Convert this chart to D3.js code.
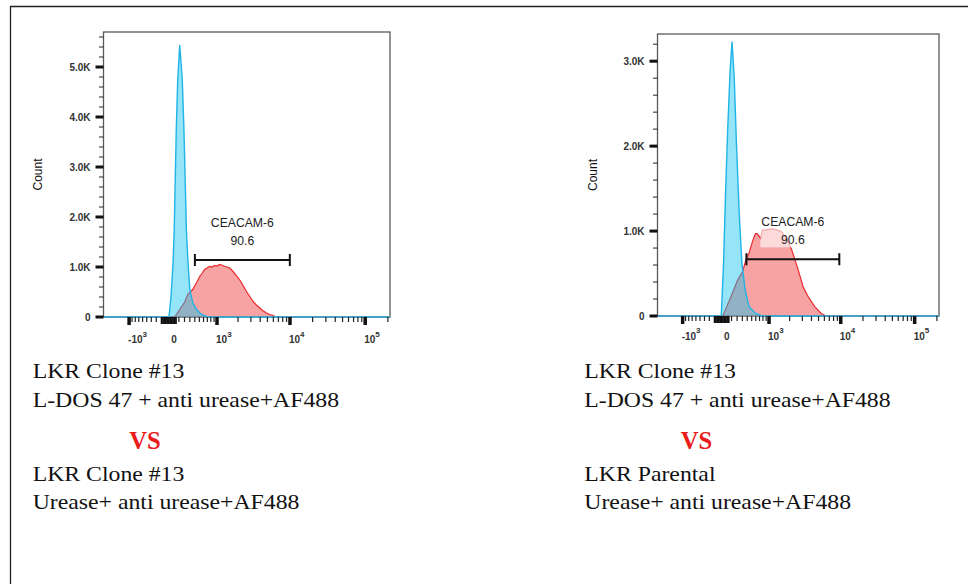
<!DOCTYPE html>
<html><head><meta charset="utf-8">
<script src="https://cdn.jsdelivr.net/npm/d3@7"></script>
<style>body{margin:0;background:#fff}svg{display:block}</style>
</head><body>
<svg id="c" width="968" height="584"></svg>
<script>
// ---------------- DATA ----------------
// Left panel: LKR Clone #13 (L-DOS 47) vs LKR Clone #13 (Urease+)
const blueL_x = [-70, -35, 0, 20, 55, 80, 115, 160, 190, 235, 265, 300, 360, 435, 550, 710];
const blueL_y = [0, 410, 1080, 1740, 3740, 4740, 5440, 4740, 3740, 1740, 1080, 540, 280, 150, 50, 0];
const redL_x = [27, 114, 203, 264, 350, 434, 508, 570, 628, 700, 769, 840, 921, 1000, 1091, 1200, 1301, 1420, 1535, 1708, 1900, 2116, 2350, 2613, 2900, 3210, 3550, 3952, 4400, 4862, 5400, 5958, 6473];
const redL_y = [0, 150, 300, 460, 540, 680, 810, 880, 950, 985, 1010, 1000, 1030, 1020, 1050, 1035, 1010, 1000, 980, 910, 830, 740, 630, 510, 410, 310, 240, 180, 120, 80, 50, 30, 0];
// Right panel: LKR Clone #13 (L-DOS 47) vs LKR Parental (Urease+)
const blueR_x = [-80, -40, -7, 32, 74, 109, 149, 190, 240, 291, 356, 440, 597, 778];
const blueR_y = [0, 620, 1400, 2190, 2890, 3230, 2780, 1990, 1210, 620, 310, 110, 30, 0];
const redR_x = [-53, 91, 208, 303, 383, 440, 515, 556, 597, 636, 685, 734, 778, 880, 991, 1120, 1246, 1400, 1550, 1821, 2136, 2638, 3083, 3600, 4433, 5433, 6335];
const redR_y = [0, 230, 420, 520, 680, 740, 870, 930, 970, 970, 940, 910, 1010, 1015, 1020, 1025, 1020, 1005, 990, 910, 780, 540, 340, 230, 110, 30, 0];
// Gates: [from, to, count level]
const gateL = [402, 9950, 1140];
const gateR = [383, 9566, 667];
const gateName = "CEACAM-6";
const gateValueL = "90.6";
const gateValueR = "90.6";
// Axes
const xTickValues = [-1000, 0, 1000, 10000, 100000];
const xTickBase = ["-10", "0", "10", "10", "10"];
const xTickExp = ["3", "", "3", "4", "5"];
const yTicksL = [0, 1000, 2000, 3000, 4000, 5000];
const yLabelsL = ["0", "1.0K", "2.0K", "3.0K", "4.0K", "5.0K"];
const yTicksR = [0, 1000, 2000, 3000];
const yLabelsR = ["0", "1.0K", "2.0K", "3.0K"];
const yAxisTitle = "Count";
// Captions
const captionL = ["LKR Clone #13", "L-DOS 47 + anti urease+AF488", "VS", "LKR Clone #13", "Urease+ anti urease+AF488"];
const captionR = ["LKR Clone #13", "L-DOS 47 + anti urease+AF488", "VS", "LKR Parental", "Urease+ anti urease+AF488"];

// ---------------- DRAW ----------------
const svg = d3.select("#c");
const SANS = "'Liberation Sans', Arial, sans-serif";
const SERIF = "'Liberation Serif', 'Times New Roman', serif";

// outer frame
svg.append("path").attr("d", "M10.5,584V6.5H968").attr("fill", "none")
  .attr("stroke", "#222").attr("stroke-width", 1.3);

const C = 559;                       // biexponential (asinh) width constant
const T = v => Math.asinh(v / C);
const X_MIN = -2315, X_MAX = 213500;

// minor tick generator (decade sub-divisions)
const minorTicks = [];
for (let k = 1; k <= 9; k++) minorTicks.push(-k * 100);
for (let k = 1; k <= 9; k++) minorTicks.push(k * 100);
for (let k = 2; k <= 9; k++) minorTicks.push(k * 1000);
for (let k = 2; k <= 9; k++) minorTicks.push(k * 10000);
minorTicks.push(200000);
const zeroCluster = d3.range(-200, 51, 25);

const panels = [
  {left: 103.5, right: 390, top: 32, bottom: 317, yMax: 5700, yTicks: yTicksL, yLabels: yLabelsL,
   blue: [blueL_x, blueL_y], red: [redL_x, redL_y], gate: gateL, gateVal: gateValueL, countX: 38, xLabelDy: 26, id: "L"},
  {left: 657.5, right: 939, top: 34, bottom: 316, yMax: 3320, yTicks: yTicksR, yLabels: yLabelsR,
   blue: [blueR_x, blueR_y], red: [redR_x, redR_y], gate: gateR, gateVal: gateValueR, countX: 593, xLabelDy: 23.5, id: "R"}
];

panels.forEach(p => {
  const g = svg.append("g");
  const tx = d3.scaleLinear().domain([T(X_MIN), T(X_MAX)]).range([p.left, p.right]);
  const x = v => tx(T(v));
  const y = d3.scaleLinear().domain([0, p.yMax]).range([p.bottom, p.top]);

  g.append("clipPath").attr("id", "clip" + p.id).append("rect")
    .attr("x", p.left).attr("y", p.top).attr("width", p.right - p.left).attr("height", p.bottom - p.top + 2);

  // box
  g.append("rect").attr("x", p.left).attr("y", p.top).attr("width", p.right - p.left)
    .attr("height", p.bottom - p.top).attr("fill", "none").attr("stroke", "#5a5a5a").attr("stroke-width", 1.3);

  const pts = (xs, ys) => [[X_MIN, 0], ...xs.map((v, i) => [v, ys[i]]), [X_MAX, 0]];
  const area = d3.area().x(d => x(d[0])).y0(y(0)).y1(d => y(d[1]));
  const line = d3.line().x(d => x(d[0])).y(d => y(d[1]));
  const hg = g.append("g").attr("clip-path", `url(#clip${p.id})`);
  const red = pts(p.red[0], p.red[1]);
  const blue = pts(p.blue[0], p.blue[1]);
  hg.append("path").attr("d", area(red)).attr("fill", "rgba(240,50,50,0.45)");
  hg.append("path").attr("d", line(red)).attr("fill", "none").attr("stroke", "#e8262c").attr("stroke-width", 1.2);
  hg.append("path").attr("d", area(blue)).attr("fill", "rgba(20,195,240,0.45)");
  hg.append("path").attr("d", line(blue)).attr("fill", "none").attr("stroke", "#1fb4e6").attr("stroke-width", 1.4);

  // gate
  const gy = y(p.gate[2]), gx0 = x(p.gate[0]), gx1 = x(p.gate[1]);
  const gcx = (gx0 + gx1) / 2;
  const lg = g.append("g");
  const bg = lg.append("rect");
  const t1 = lg.append("text").attr("x", gcx).attr("y", gy - 33.5).attr("text-anchor", "middle")
    .attr("font-family", SANS).attr("font-size", 12.2).attr("fill", "#222").text(gateName);
  const t2 = lg.append("text").attr("x", gcx).attr("y", gy - 15).attr("text-anchor", "middle")
    .attr("font-family", SANS).attr("font-size", 12.2).attr("fill", "#222").text(p.gateVal);
  const b1 = t1.node().getBBox(), b2 = t2.node().getBBox();
  const bx0 = Math.min(b1.x, b2.x) - 1, bx1 = Math.max(b1.x + b1.width, b2.x + b2.width) + 1;
  bg.attr("x", bx0).attr("y", b1.y - 1).attr("width", bx1 - bx0).attr("height", b2.y + b2.height - b1.y + 1)
    .attr("fill", "#fff").attr("fill-opacity", 0.6);
  g.append("path").attr("d", `M${gx0},${gy}H${gx1}M${gx0},${gy - 6}V${gy + 6}M${gx1},${gy - 6}V${gy + 6}`)
    .attr("stroke", "#111").attr("stroke-width", 2).attr("fill", "none");

  // y axis ticks
  const yMinor = d3.range(0, p.yMax + 1, 200).filter(v => v % 1000 !== 0);
  g.selectAll(null).data(yMinor).join("line")
    .attr("x1", p.left - 4.5).attr("x2", p.left).attr("y1", d => y(d)).attr("y2", d => y(d))
    .attr("stroke", "#222").attr("stroke-width", 1);
  g.selectAll(null).data(p.yTicks).join("rect")
    .attr("x", p.left - 8).attr("y", d => y(d) - 1.5).attr("width", 8).attr("height", 3).attr("fill", "#111");
  g.selectAll(null).data(p.yTicks).join("text")
    .attr("x", p.left - 13).attr("y", d => y(d)).attr("dy", "0.36em").attr("text-anchor", "end")
    .attr("font-family", SANS).attr("font-size", 10).attr("font-weight", "bold").attr("fill", "#333")
    .text((d, i) => p.yLabels[i]);
  g.append("text").attr("transform", `translate(${p.countX},${(p.top + p.bottom) / 2}) rotate(-90)`)
    .attr("text-anchor", "middle").attr("dy", "0.35em").attr("font-family", SANS).attr("font-size", 12)
    .attr("fill", "#111").text(yAxisTitle);

  // x axis ticks
  g.selectAll(null).data(minorTicks).join("line")
    .attr("x1", d => x(d)).attr("x2", d => x(d)).attr("y1", p.bottom).attr("y2", p.bottom + 5)
    .attr("stroke", "#222").attr("stroke-width", 1.2);
  g.selectAll(null).data(zeroCluster).join("line")
    .attr("x1", d => x(d)).attr("x2", d => x(d)).attr("y1", p.bottom).attr("y2", p.bottom + 7)
    .attr("stroke", "#111").attr("stroke-width", 1.8);
  g.selectAll(null).data(xTickValues.filter(v => v !== 0)).join("rect")
    .attr("x", d => x(d) - 1.75).attr("y", p.bottom).attr("width", 3.5).attr("height", 8).attr("fill", "#111");
  xTickValues.forEach((v, i) => {
    const t = g.append("text").attr("y", p.bottom + p.xLabelDy)
      .attr("font-family", SANS).attr("font-size", 10).attr("font-weight", "bold").attr("fill", "#333");
    if (v === 0) {
      t.attr("x", x(v) + 1).attr("text-anchor", "middle").text(xTickBase[i]);
    } else {
      t.attr("x", x(v) - 1).attr("text-anchor", "start");
      t.append("tspan").text(xTickBase[i]);
      t.append("tspan").attr("dy", -6.5).attr("font-size", 8).text(xTickExp[i]);
    }
  });
});

// captions
function caption(lines, x0) {
  const base = [378.3, 407.3, 449.3, 480.7, 509.3];
  lines.forEach((s, i) => {
    const isVS = i === 2;
    svg.append("text")
      .attr("transform", `translate(${isVS ? x0 + 96.5 : x0},${base[i]}) scale(${isVS ? 1.02 : 1.08},1)`)
      .attr("font-family", SERIF).attr("font-size", isVS ? 24.2 : 22)
      .attr("font-weight", isVS ? "bold" : "normal").attr("fill", isVS ? "#ea1c1c" : "#111")
      .text(s);
  });
}
caption(captionL, 32.7);
caption(captionR, 584.3);
</script>
</body></html>
